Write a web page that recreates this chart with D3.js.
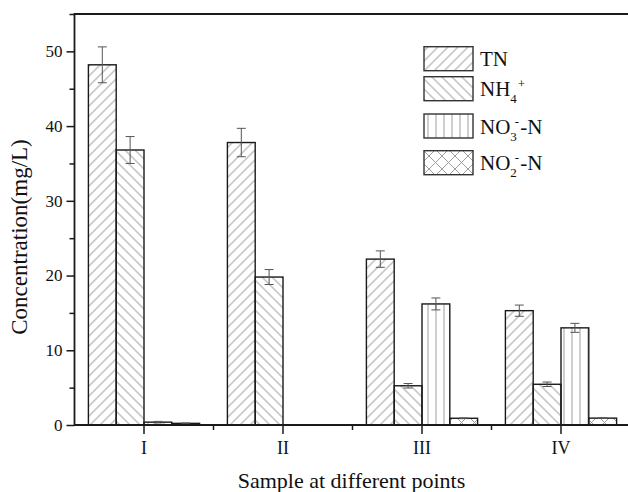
<!DOCTYPE html>
<html>
<head>
<meta charset="utf-8">
<script src="https://cdn.jsdelivr.net/npm/d3@7"></script>
<style>
  body { margin: 0; background: #fff; }
  svg text { font-family: "Liberation Serif", "Times New Roman", serif; fill: #111; }
</style>
</head>
<body>
<div id="chart"></div>
<script>
var width = 628, height = 492;

// data
var categories = ["I", "II", "III", "IV"];
var seriesNames = ["TN", "NH4+", "NO3--N", "NO2--N"];
var tn = [48.2, 37.8, 22.2, 15.3];
var tnErr = [2.4, 1.9, 1.1, 0.75];
var nh4 = [36.8, 19.8, 5.25, 5.45];
var nh4Err = [1.8, 1.0, 0.3, 0.3];
var no3 = [0.38, 0, 16.2, 13.0];
var no3Err = [0.1, 0, 0.8, 0.6];
var no2 = [0.22, 0, 0.9, 0.92];
var no2Err = [0.05, 0, 0.05, 0.05];
var yTicks = [0, 10, 20, 30, 40, 50];
var yMinorTicks = [5, 15, 25, 35, 45, 55];

var values = [tn, nh4, no3, no2];
var errors = [tnErr, nh4Err, no3Err, no2Err];
var patterns = ["fwd", "back", "vert", "cross"];

var plotLeft = 74.5, plotTop = 14, plotBottom = 425, plotRight = 630.5;

var svg = d3.select("#chart").append("svg")
    .attr("width", width)
    .attr("height", height);

// hatch patterns
var defs = svg.append("defs");
function hatch(id, angle, step) {
    var p = defs.append("pattern")
        .attr("id", id)
        .attr("patternUnits", "userSpaceOnUse")
        .attr("width", step).attr("height", 10)
        .attr("patternTransform", "rotate(" + angle + ")");
    p.append("line")
        .attr("x1", step / 2).attr("x2", step / 2)
        .attr("y1", 0).attr("y2", 10)
        .attr("stroke", "#939393").attr("stroke-width", 0.9);
}
hatch("fwd", 45, 10 / Math.SQRT2);
hatch("back", -45, 10 / Math.SQRT2);
hatch("vert", 0, 8);
var cp = defs.append("pattern")
    .attr("id", "cross")
    .attr("patternUnits", "userSpaceOnUse")
    .attr("width", 13).attr("height", 13);
cp.append("path")
    .attr("d", "M0,0L13,13M13,0L0,13")
    .attr("stroke", "#939393").attr("stroke-width", 0.9);

var x = d3.scaleBand().domain(categories).range([plotLeft, plotRight]).padding(0);
var bw = x.bandwidth();
var xs = d3.scaleBand().domain(d3.range(seriesNames.length)).range([bw * 0.1, bw * 0.9]).padding(0);
var y = d3.scaleLinear().domain([0, 55]).range([plotBottom, plotTop]);

// bars
values.forEach(function (vals, s) {
    var g = svg.append("g");
    g.selectAll("rect")
        .data(vals.map(function (v, i) { return { c: categories[i], v: v }; }).filter(function (d) { return d.v > 0; }))
        .enter().append("rect")
        .attr("x", function (d) { return x(d.c) + xs(s); })
        .attr("y", function (d) { return y(d.v); })
        .attr("width", xs.bandwidth())
        .attr("height", function (d) { return plotBottom - y(d.v); })
        .attr("fill", "url(#" + patterns[s] + ")")
        .attr("stroke", "#1a1a1a")
        .attr("stroke-width", 1.4);
});

// error bars
values.forEach(function (vals, s) {
    vals.forEach(function (v, i) {
        if (v <= 0) return;
        var cx = x(categories[i]) + xs(s) + xs.bandwidth() / 2;
        var e = errors[s][i];
        var eb = svg.append("g").attr("stroke", "#555").attr("stroke-width", 1);
        eb.append("line").attr("x1", cx).attr("x2", cx).attr("y1", y(v + e)).attr("y2", y(v - e));
        eb.append("line").attr("x1", cx - 4.5).attr("x2", cx + 4.5).attr("y1", y(v + e)).attr("y2", y(v + e));
        eb.append("line").attr("x1", cx - 4.5).attr("x2", cx + 4.5).attr("y1", y(v - e)).attr("y2", y(v - e));
    });
});

// axes
var yAxis = d3.axisLeft(y).tickValues(yTicks).tickSize(8).tickPadding(4);
var ya = svg.append("g").attr("transform", "translate(" + plotLeft + ",0)").call(yAxis);
ya.select(".domain").remove();
ya.selectAll("line").attr("stroke", "#1a1a1a").attr("stroke-width", 1.5);
ya.selectAll("text").attr("font-size", 17).attr("font-family", "Liberation Serif").attr("fill", "#111");
var yMinor = svg.append("g").attr("transform", "translate(" + plotLeft + ",0)")
    .call(d3.axisLeft(y).tickValues(yMinorTicks).tickSize(5).tickFormat(""));
yMinor.select(".domain").remove();
yMinor.selectAll("line").attr("stroke", "#1a1a1a").attr("stroke-width", 1.5);

var xa = svg.append("g").attr("transform", "translate(0," + plotBottom + ")")
    .call(d3.axisBottom(x).tickSize(9).tickPadding(7));
xa.select(".domain").remove();
xa.selectAll("line").attr("stroke", "#1a1a1a").attr("stroke-width", 1.5);
xa.selectAll("text").attr("font-size", 18).attr("font-family", "Liberation Serif").attr("fill", "#111");
var xMinor = categories.map(function (c) { return x(c); }).slice(1);
svg.append("g").selectAll("line").data(xMinor).enter().append("line")
    .attr("x1", function (d) { return d; }).attr("x2", function (d) { return d; })
    .attr("y1", plotBottom).attr("y2", plotBottom + 5)
    .attr("stroke", "#1a1a1a").attr("stroke-width", 1.5);

// frame
svg.append("path")
    .attr("d", "M" + plotRight + "," + plotTop + "H" + plotLeft + "V" + plotBottom + "H" + plotRight)
    .attr("fill", "none").attr("stroke", "#1a1a1a").attr("stroke-width", 1.8);

// titles
svg.append("text")
    .attr("x", (plotLeft + plotRight) / 2 - 1).attr("y", 488)
    .attr("text-anchor", "middle").attr("font-size", 22)
    .text("Sample at different points");
svg.append("text")
    .attr("transform", "translate(27,237) rotate(-90)")
    .attr("text-anchor", "middle").attr("font-size", 23)
    .text("Concentration(mg/L)");

// legend
var legTops = [46.7, 76.7, 114, 150.7];
var leg = svg.append("g");
seriesNames.forEach(function (name, s) {
    var t = legTops[s];
    leg.append("rect")
        .attr("x", 424).attr("y", t).attr("width", 49).attr("height", 24)
        .attr("fill", "url(#" + patterns[s] + ")")
        .attr("stroke", "#333").attr("stroke-width", 1.4);
    var txt = leg.append("text").attr("x", 480).attr("y", t + 19.5).attr("font-size", 21);
    if (s === 0) {
        txt.text("TN");
    } else if (s === 1) {
        txt.append("tspan").text("NH");
        txt.append("tspan").attr("dy", 7).attr("font-size", 13).text("4");
        txt.append("tspan").attr("dy", -15).attr("dx", 1).attr("font-size", 13).text("+");
    } else {
        txt.append("tspan").text("NO");
        txt.append("tspan").attr("dy", 7).attr("font-size", 13).text(s === 2 ? "3" : "2");
        txt.append("tspan").attr("dy", -15).attr("dx", -2).attr("font-size", 13).text("-");
        txt.append("tspan").attr("dy", 8).attr("dx", 1).text("-N");
    }
});
</script>
</body>
</html>
